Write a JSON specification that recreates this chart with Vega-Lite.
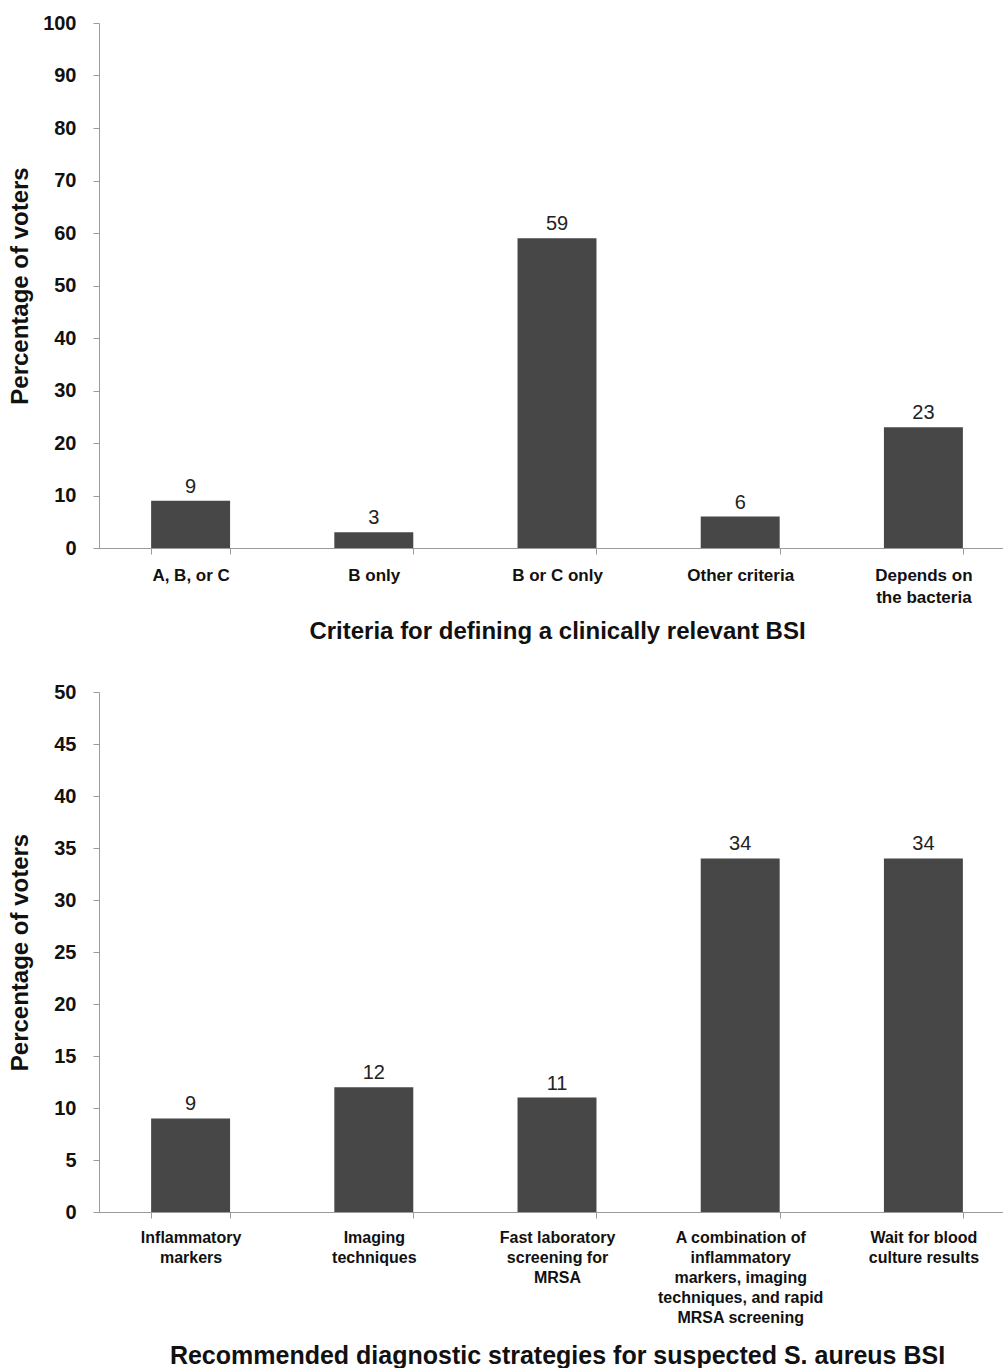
{
  "$schema": "https://vega.github.io/schema/vega-lite/v6.json",
  "padding": {"left": 8, "top": 13, "right": 0, "bottom": 0},
  "background": "white",
  "bounds": "flush",
  "spacing": 144,
  "config": {
    "view": {"stroke": null},
    "font": "Liberation Sans",
    "axis": {
      "domainColor": "#9a9a9a",
      "tickColor": "#9a9a9a",
      "tickSize": 6,
      "grid": false,
      "labelColor": "#111111",
      "titleColor": "#111111",
      "labelFont": "Liberation Sans",
      "titleFont": "Liberation Sans",
      "labelFontWeight": "bold",
      "titleFontWeight": "bold"
    }
  },
  "datasets": {
    "criteria": [
      {"category": "A, B, or C", "percent": 9},
      {"category": "B only", "percent": 3},
      {"category": "B or C only", "percent": 59},
      {"category": "Other criteria", "percent": 6},
      {"category": "Depends on the bacteria", "percent": 23}
    ],
    "strategies": [
      {"category": "Inflammatory markers", "percent": 9},
      {"category": "Imaging techniques", "percent": 12},
      {"category": "Fast laboratory screening for MRSA", "percent": 11},
      {"category": "A combination of inflammatory markers, imaging techniques, and rapid MRSA screening", "percent": 34},
      {"category": "Wait for blood culture results", "percent": 34}
    ]
  },
  "vconcat": [
    {
      "width": 916,
      "height": 525,
      "data": {"name": "criteria"},
      "encoding": {
        "x": {
          "field": "category", "type": "nominal", "sort": null,
          "scale": {"paddingInner": 0.569, "paddingOuter": 0.2845},
          "axis": {
            "title": "Criteria for defining a clinically relevant BSI",
            "titleFontSize": 24,
            "titlePadding": 14,
            "labelAngle": 0,
            "labelFontSize": 17,
            "labelLineHeight": 22,
            "labelPadding": 13,
            "tickBand": "extent",
            "labelExpr": "datum.label == 'Depends on the bacteria' ? ['Depends on', 'the bacteria'] : datum.label"
          }
        },
        "y": {
          "field": "percent", "type": "quantitative",
          "scale": {"domain": [0, 100], "nice": false},
          "axis": {
            "title": "Percentage of voters",
            "values": [0, 10, 20, 30, 40, 50, 60, 70, 80, 90, 100],
            "labelFontSize": 20,
            "labelPadding": 17,
            "titleFontSize": 24,
            "titlePadding": 10
          }
        }
      },
      "layer": [
        {"mark": {"type": "bar", "color": "#474747"}},
        {
          "mark": {"type": "text", "baseline": "bottom", "dy": -4, "fontSize": 20, "color": "#222222", "font": "Liberation Sans"},
          "encoding": {"text": {"field": "percent", "type": "quantitative"}}
        }
      ]
    },
    {
      "width": 916,
      "height": 520,
      "data": {"name": "strategies"},
      "encoding": {
        "x": {
          "field": "category", "type": "nominal", "sort": null,
          "scale": {"paddingInner": 0.569, "paddingOuter": 0.2845},
          "axis": {
            "title": "Recommended diagnostic strategies for suspected S. aureus BSI",
            "titleFontSize": 25,
            "titlePadding": 18,
            "labelAngle": 0,
            "labelFontSize": 16,
            "labelLineHeight": 20,
            "labelPadding": 11,
            "tickBand": "extent",
            "labelExpr": "datum.label == 'Inflammatory markers' ? ['Inflammatory', 'markers'] : datum.label == 'Imaging techniques' ? ['Imaging', 'techniques'] : datum.label == 'Fast laboratory screening for MRSA' ? ['Fast laboratory', 'screening for', 'MRSA'] : datum.label == 'Wait for blood culture results' ? ['Wait for blood', 'culture results'] : datum.label == 'A combination of inflammatory markers, imaging techniques, and rapid MRSA screening' ? ['A combination of', 'inflammatory', 'markers, imaging', 'techniques, and rapid', 'MRSA screening'] : datum.label"
          }
        },
        "y": {
          "field": "percent", "type": "quantitative",
          "scale": {"domain": [0, 50], "nice": false},
          "axis": {
            "title": "Percentage of voters",
            "values": [0, 5, 10, 15, 20, 25, 30, 35, 40, 45, 50],
            "labelFontSize": 20,
            "labelPadding": 17,
            "titleFontSize": 24,
            "titlePadding": 21
          }
        }
      },
      "layer": [
        {"mark": {"type": "bar", "color": "#474747"}},
        {
          "mark": {"type": "text", "baseline": "bottom", "dy": -4, "fontSize": 20, "color": "#222222", "font": "Liberation Sans"},
          "encoding": {"text": {"field": "percent", "type": "quantitative"}}
        }
      ]
    }
  ]
}
